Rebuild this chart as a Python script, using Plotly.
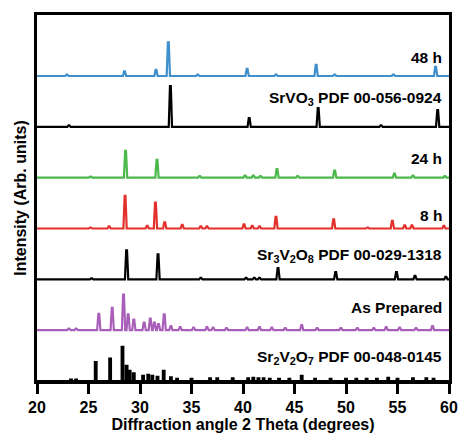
import plotly.graph_objects as go

# ---- data: peak positions (2θ, deg) and relative heights, per pattern ----
h48_pos = [22.9, 28.5, 31.55, 32.75, 35.6, 40.4, 43.2, 47.1, 48.9, 54.6, 58.7]
h48_hgt = [0.03, 0.09, 0.12, 0.66, 0.03, 0.14, 0.03, 0.22, 0.03, 0.03, 0.18]

srvo3_pos = [23.1, 32.95, 40.6, 47.3, 53.4, 58.9]
srvo3_hgt = [0.03, 0.80, 0.17, 0.37, 0.03, 0.33]

h24_pos = [25.2, 28.6, 31.65, 35.8, 40.2, 41.0, 41.7, 43.3, 45.3, 48.9, 54.7, 56.5, 59.6]
h24_hgt = [0.02, 0.53, 0.35, 0.03, 0.04, 0.04, 0.03, 0.17, 0.03, 0.14, 0.08, 0.04, 0.03]

h8_pos = [25.2, 27.0, 28.55, 30.7, 31.5, 32.4, 34.1, 35.9, 36.5, 40.1, 40.9, 41.6,
          43.2, 48.8, 52.1, 54.5, 55.7, 56.4, 59.5]
h8_hgt = [0.02, 0.04, 0.64, 0.05, 0.51, 0.12, 0.07, 0.04, 0.04, 0.08, 0.05, 0.04,
          0.23, 0.18, 0.02, 0.15, 0.06, 0.06, 0.05]

sr3v2o8_pos = [25.3, 28.7, 31.75, 35.9, 40.3, 41.1, 41.6, 43.4, 49.0, 54.9, 56.7, 59.7]
sr3v2o8_hgt = [0.02, 0.57, 0.49, 0.03, 0.03, 0.03, 0.03, 0.22, 0.14, 0.14, 0.07, 0.05]

asprep_pos = [23.1, 23.8, 26.0, 27.3, 28.4, 28.85, 29.4, 30.4, 31.0, 31.4, 31.8, 32.35,
              33.0, 33.9, 35.2, 36.5, 37.1, 38.4, 40.4, 41.6, 42.8, 44.1, 45.7, 47.2,
              49.5, 51.1, 52.7, 53.9, 55.2, 56.8, 58.4]
asprep_hgt = [0.03, 0.03, 0.32, 0.44, 0.70, 0.31, 0.21, 0.15, 0.23, 0.15, 0.12, 0.31,
              0.08, 0.06, 0.05, 0.06, 0.05, 0.04, 0.05, 0.06, 0.05, 0.04, 0.10, 0.04,
              0.04, 0.04, 0.04, 0.06, 0.05, 0.04, 0.08]

sr2v2o7_pos = [23.3, 23.8, 25.7, 27.1, 28.3, 28.7, 29.0, 29.4, 30.3, 30.8, 31.2, 31.7,
               32.3, 33.0, 33.6, 35.0, 36.8, 37.5, 39.0, 40.5, 41.0, 41.5, 42.0, 42.6,
               43.5, 44.5, 45.7, 47.0, 48.5, 50.0, 51.0, 52.0, 53.0, 54.1, 55.0, 56.5,
               57.8, 58.5]
sr2v2o7_hgt = [0.03, 0.03, 0.37, 0.44, 0.67, 0.30, 0.20, 0.15, 0.10, 0.12, 0.10, 0.08,
               0.20, 0.07, 0.04, 0.04, 0.05, 0.05, 0.05, 0.05, 0.06, 0.05, 0.05, 0.04,
               0.04, 0.04, 0.10, 0.04, 0.04, 0.04, 0.04, 0.04, 0.04, 0.06, 0.04, 0.05,
               0.05, 0.04]

labels = ["Sr<sub>2</sub>V<sub>2</sub>O<sub>7</sub> PDF 00-048-0145", "As Prepared",
          "Sr<sub>3</sub>V<sub>2</sub>O<sub>8</sub> PDF 00-029-1318", "8 h", "24 h",
          "SrVO<sub>3</sub> PDF 00-056-0924", "48 h"]
label_y = [0.47, 1.45, 2.47, 3.25, 4.37, 5.56, 6.37]
offsets = [0, 1, 2, 3, 4, 5, 6]
x_ticks = [20, 25, 30, 35, 40, 45, 50, 55, 60]

patterns = [
    (sr2v2o7_pos, sr2v2o7_hgt, "#000000", "stick"),
    (asprep_pos, asprep_hgt, "#a95fb9", "peak"),
    (sr3v2o8_pos, sr3v2o8_hgt, "#000000", "peak"),
    (h8_pos, h8_hgt, "#e3302a", "peak"),
    (h24_pos, h24_hgt, "#4bb84b", "peak"),
    (srvo3_pos, srvo3_hgt, "#000000", "peak"),
    (h48_pos, h48_hgt, "#3f8fcc", "peak"),
]


def profile(pos, hgt, base, kind):
    w = 0.16 if kind == "peak" else 0.08
    xs, ys = [20], [base]
    for p, h in sorted(zip(pos, hgt)):
        if kind == "peak":
            xs += [p - w, p - w * 0.25, p + w * 0.25, p + w]
            ys += [base, base + h, base + h, base]
        else:
            xs += [p - w, p - w, p + w, p + w]
            ys += [base, base + h, base + h, base]
    xs.append(60)
    ys.append(base)
    return xs, ys


fig = go.Figure()
for (pos, hgt, col, kind), off in zip(patterns, offsets):
    xs, ys = profile(pos, hgt, off, kind)
    fig.add_trace(go.Scatter(x=xs, y=ys, mode="lines",
                             line=dict(color=col, width=2.2), showlegend=False,
                             hoverinfo="skip"))

font = dict(family="Liberation Sans, Arial, sans-serif", color="black", size=15.5,
            weight="bold")
for txt, ly in zip(labels, label_y):
    fig.add_annotation(x=59.5, y=ly, text=txt, showarrow=False, xanchor="right",
                       yanchor="middle", font=font)

fig.update_layout(
    width=468, height=437,
    margin=dict(l=37, r=10, t=15, b=54),
    plot_bgcolor="white", paper_bgcolor="white",
    font=font,
)
fig.update_xaxes(range=[20, 60], tickvals=x_ticks, ticks="outside", ticklen=10,
                 tickwidth=2.5, tickcolor="black", showline=True, linewidth=2.5,
                 linecolor="black", mirror=True, showgrid=False, zeroline=False,
                 tickfont=dict(size=16), title=dict(text="Diffraction angle 2 Theta (degrees)",
                                                     font=dict(size=16), standoff=0))
fig.update_yaxes(range=[0, 7.2], showticklabels=False, ticks="", showline=True,
                 linewidth=2.5, linecolor="black", mirror=True, showgrid=False,
                 zeroline=False, title=dict(text="Intensity (Arb. units)",
                                            font=dict(size=16), standoff=4))

fig.write_html("out.html")
